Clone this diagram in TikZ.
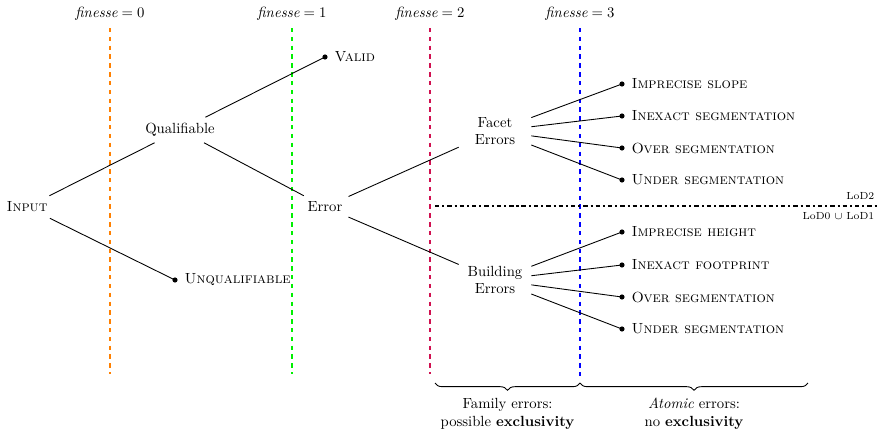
\documentclass[tikz,border=0pt]{standalone}
\usetikzlibrary{decorations.pathreplacing}
\definecolor{crim}{RGB}{208,16,80}
\definecolor{lgreen}{RGB}{0,240,0}
\definecolor{lorange}{RGB}{255,128,0}
\begin{document}
\begin{tikzpicture}[x=0.68pt,y=-0.68pt,
  tnode/.style={inner sep=4pt, align=center},
  fam/.style={inner xsep=2pt, inner ysep=3pt, minimum width=49pt, align=center},
  leaf/.style={circle, fill=black, inner sep=0pt, minimum size=3.5pt},
  lbl/.style={label distance=1pt},
  edge/.style={black, line width=0.6pt},
  vline/.style={line width=1.4pt, dashed},
  brace/.style={decorate, decoration={brace, mirror, amplitude=5pt}, line width=0.6pt},
  title/.style={inner sep=1pt}
]
\useasboundingbox (0,0) rectangle (877,433);

% finesse titles and vertical dashed lines
\node[title] (f0) at (110,14) {$\textit{finesse} = 0$};
\node[title] (f1) at (292,14) {$\textit{finesse} = 1$};
\node[title] (f2) at (430,14) {$\textit{finesse} = 2$};
\node[title] (f3) at (580,14) {$\textit{finesse} = 3$};
\coordinate (t0) at (110,28); \coordinate (b0) at (110,374);
\coordinate (t1) at (292,28); \coordinate (b1) at (292,374);
\coordinate (t2) at (430,28); \coordinate (b2) at (430,374);
\coordinate (t3) at (580,28); \coordinate (b3) at (580,376);
\draw[vline, lorange] (t0) -- (b0);
\draw[vline, lgreen] (t1) -- (b1);
\draw[vline, crim] (t2) -- (b2);
\draw[vline, blue] (t3) -- (b3);

% LoD separator
\coordinate (l0) at (435,206);
\coordinate (l1) at (877,206);
\draw[line width=1.4pt, dash dot] (l0) -- (l1);
\node[anchor=east, inner sep=1pt, font=\scriptsize] (lod2) at (876,196) {LoD2};
\node[anchor=east, inner sep=1pt, font=\scriptsize] (lod01) at (876,216) {LoD0 $\cup$ LoD1};

% tree nodes
\node[tnode] (input) at (27,207) {\textsc{Input}};
\node[tnode] (qual) at (180,130) {Qualifiable};
\node[tnode] (error) at (325,207) {Error};
\node[leaf, label={[lbl]right:\textsc{Valid}}] (valid) at (325,57) {};
\node[leaf, label={[lbl]right:\textsc{Unqualifiable}}] (unq) at (175,280) {};
\node[fam] (facet) at (495,131) {Facet\\Errors};
\node[fam] (build) at (495,280) {Building\\Errors};

\node[leaf, label={[lbl]right:\textsc{Imprecise slope}}] (fa) at (622,84) {};
\node[leaf, label={[lbl]right:\textsc{Inexact segmentation}}] (fb) at (622,116) {};
\node[leaf, label={[lbl]right:\textsc{Over segmentation}}] (fc) at (622,148) {};
\node[leaf, label={[lbl]right:\textsc{Under segmentation}}] (fd) at (622,180) {};

\node[leaf, label={[lbl]right:\textsc{Imprecise height}}] (ba) at (622,232) {};
\node[leaf, label={[lbl]right:\textsc{Inexact footprint}}] (bb) at (622,265) {};
\node[leaf, label={[lbl]right:\textsc{Over segmentation}}] (bc) at (622,297) {};
\node[leaf, label={[lbl]right:\textsc{Under segmentation}}] (bd) at (622,329) {};

% edges
\draw[edge] (input) -- (qual);
\draw[edge] (input) -- (unq.center);
\draw[edge] (qual) -- (valid.center);
\draw[edge] (qual) -- (error);
\draw[edge] (error) -- (facet);
\draw[edge] (error) -- (build);
\foreach \c in {fa,fb,fc,fd} \draw[edge] (facet) -- (\c.center);
\foreach \c in {ba,bb,bc,bd} \draw[edge] (build) -- (\c.center);

% braces
\coordinate (br0) at (435,383);
\coordinate (br1) at (580,383);
\coordinate (br2) at (808,383);
\draw[brace] (br0) -- (br1) node[midway, below=9pt, align=center, inner sep=1pt] (famlbl) {Family errors:\\possible \textbf{exclusivity}};
\draw[brace] (br1) -- (br2) node[midway, below=9pt, align=center, inner sep=1pt] (atomlbl) {\textit{Atomic} errors:\\no \textbf{exclusivity}};
\end{tikzpicture}
\end{document}
